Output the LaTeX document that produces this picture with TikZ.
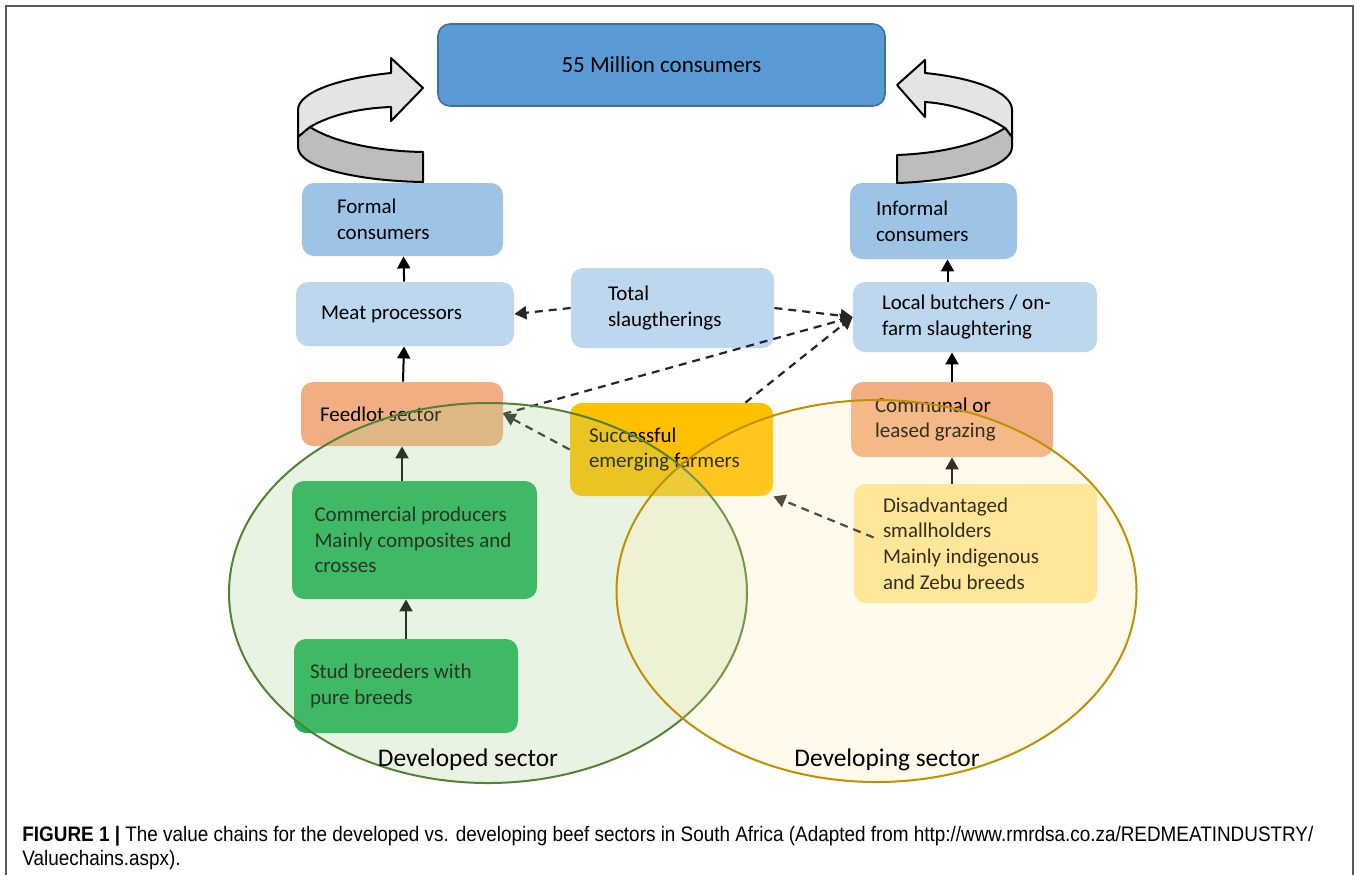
\documentclass[tikz,border=0pt]{standalone}
\usepackage{fontspec}
\setmainfont{Carlito}
\newfontfamily\capfont[FakeStretch=0.9]{Liberation Sans}
\usetikzlibrary{arrows.meta}

\definecolor{topblue}{HTML}{5B9BD5}
\definecolor{topedge}{HTML}{41719C}
\definecolor{midblue}{HTML}{9DC3E6}
\definecolor{paleblue}{HTML}{BDD7EE}
\definecolor{peach}{HTML}{F2AE82}
\definecolor{amber}{HTML}{FFC000}
\definecolor{leaf}{HTML}{1DB25A}
\definecolor{cream}{HTML}{FFE699}
\definecolor{devgreen}{HTML}{548235}
\definecolor{devfill}{HTML}{A9D08E}
\definecolor{gold}{HTML}{BF9000}
\definecolor{goldfill}{HTML}{FFE699}
\definecolor{ribbonlight}{HTML}{E4E4E4}
\definecolor{ribbondark}{HTML}{BDBDBD}

\tikzset{
        stage/.style={rounded corners=6pt, inner sep=0pt, align=flush left, font=\fontsize{10.5}{12.8}\selectfont},
        flow/.style={-{Triangle[length=6pt,width=6.5pt]}, line width=1pt},
        link/.style={-{Triangle[length=6pt,width=6.5pt]}, line width=1.1pt, dash pattern=on 4pt off 3pt, black!85},
        ribbon/.style={draw=black, line width=1pt, line join=round},
        sector/.style={line width=1pt, fill opacity=0.25}
}

\begin{document}
\begin{tikzpicture}[x=0.5pt,y=-0.5pt]
        \useasboundingbox (0,0) rectangle (1358,875);
        \draw[black!65, line width=0.8pt] (6,875) -- (6,6) -- (1353,6) -- (1353,875);

        \node[stage, fill=topblue, draw=topedge, line width=0.8pt, align=center, minimum width=223.5pt, minimum height=41pt, font=\fontsize{11.5}{13.5}\selectfont](world) at (661.5,65) {55 Million consumers};
        \node[stage, fill=midblue, minimum width=100.5pt, minimum height=36.5pt, text width=65.5pt](formal) at (402.5,219.5) {Formal\\consumers};
        \node[stage, fill=paleblue, minimum width=109pt, minimum height=32pt, text width=84pt](meat) at (405,314) {Meat processors};
        \node[stage, fill=paleblue, minimum width=101.5pt, minimum height=40pt, text width=64.5pt](total) at (672.5,308) {Total\\slaugtherings};
        \node[stage, fill=midblue, minimum width=83.5pt, minimum height=38pt, text width=57.5pt](informal) at (933.5,221) {Informal\\consumers};
        \node[stage, fill=paleblue, minimum width=122pt, minimum height=35pt, text width=93pt](butchers) at (975,317) {Local butchers / on-\\farm slaughtering};
        \node[stage, fill=peach, minimum width=101pt, minimum height=32pt, text width=82pt](feedlot) at (402,414) {Feedlot sector};
        \node[stage, fill=amber, minimum width=101.5pt, minimum height=46.5pt, text width=82.5pt](emerging) at (671.5,449.5) {Successful\\emerging farmers};
        \node[stage, fill=peach, minimum width=101pt, minimum height=37.5pt, text width=77pt](communal) at (952,419.5) {Communal or\\leased grazing};
        \node[stage, fill=leaf, minimum width=122.5pt, minimum height=59pt, text width=100pt](commercial) at (414.5,540) {Commercial producers\\Mainly composites and\\crosses};
        \node[stage, fill=cream, minimum width=121.5pt, minimum height=59.5pt, text width=92.5pt](disadvantaged) at (975.5,543.5) {Disadvantaged\\smallholders\\Mainly indigenous\\and Zebu breeds};
        \node[stage, fill=leaf, minimum width=112pt, minimum height=47pt, text width=96pt](stud) at (406,686) {Stud breeders with\\pure breeds};

        \filldraw[ribbon, fill=ribbonlight] (391,73) .. controls (340,78) and (298,92) .. (298,110) -- (298,137) -- (310,127) .. controls (330,115) and (360,108) .. (391,107) -- (391,121) -- (423,88) -- (391,58) -- cycle;
        \filldraw[ribbon, fill=ribbondark] (298,137) -- (310,127) .. controls (330,140) and (370,151) .. (423,152) -- (423,182) .. controls (360,181) and (298,168) .. (298,147) -- cycle;
        \filldraw[ribbon, fill=ribbonlight] (925,73) .. controls (975,78) and (1012,92) .. (1012,110) -- (1012,137) -- (1005,128) .. controls (985,115) and (955,104) .. (925,102) -- (925,117) -- (897,85) -- (925,60) -- cycle;
        \filldraw[ribbon, fill=ribbondark] (1012,137) -- (1005,128) .. controls (985,141) and (950,153) .. (897,155) -- (897,183) .. controls (960,181) and (1012,166) .. (1012,147) -- cycle;

        \draw[flow](meat)--(formal);
        \draw[flow](feedlot)--(meat);
        \draw[flow](commercial.north -| feedlot.south)--(feedlot.south);
        \draw[flow](stud.north)--(stud.north |- commercial.south);
        \draw[flow]([xshift=7pt]informal.south |- butchers.north)--([xshift=7pt]informal.south);
        \draw[flow](communal.north)--(communal.north |- butchers.south);
        \draw[flow](disadvantaged.north -| communal.south)--(communal.south);

        \draw[link](total.west)--(meat.east);
        \draw[link](total.east)--(butchers.west);
        \draw[link](feedlot.east)--(butchers.west);
        \draw[link](emerging.west)--(feedlot.east);
        \draw[link]([xshift=-14pt]emerging.north east)--(butchers.west);
        \draw[link]([xshift=10pt,yshift=3pt]disadvantaged.west)--(emerging.south east);

        \draw[sector, draw=devgreen, fill=devfill] (488,593) ellipse [x radius=129.5pt, y radius=95pt];
        \draw[sector, draw=gold, fill=goldfill, fill opacity=0.2] (876.5,591) ellipse [x radius=130pt, y radius=95.5pt];

        \node[font=\fontsize{12.7}{15}\selectfont](developed) at (468,760) {Developed sector};
        \node[font=\fontsize{12.7}{15}\selectfont](developing) at (887,760) {Developing sector};

        \node[anchor=north west, align=flush left, inner sep=0pt, font=\capfont\fontsize{10.5}{12}\selectfont](caption) at (22,826) {\textbf{FIGURE 1 |} The value chains for the developed vs. developing beef sectors in South Africa (Adapted from http://www.rmrdsa.co.za/REDMEATINDUSTRY/\\Valuechains.aspx).};
\end{tikzpicture}
\end{document}
